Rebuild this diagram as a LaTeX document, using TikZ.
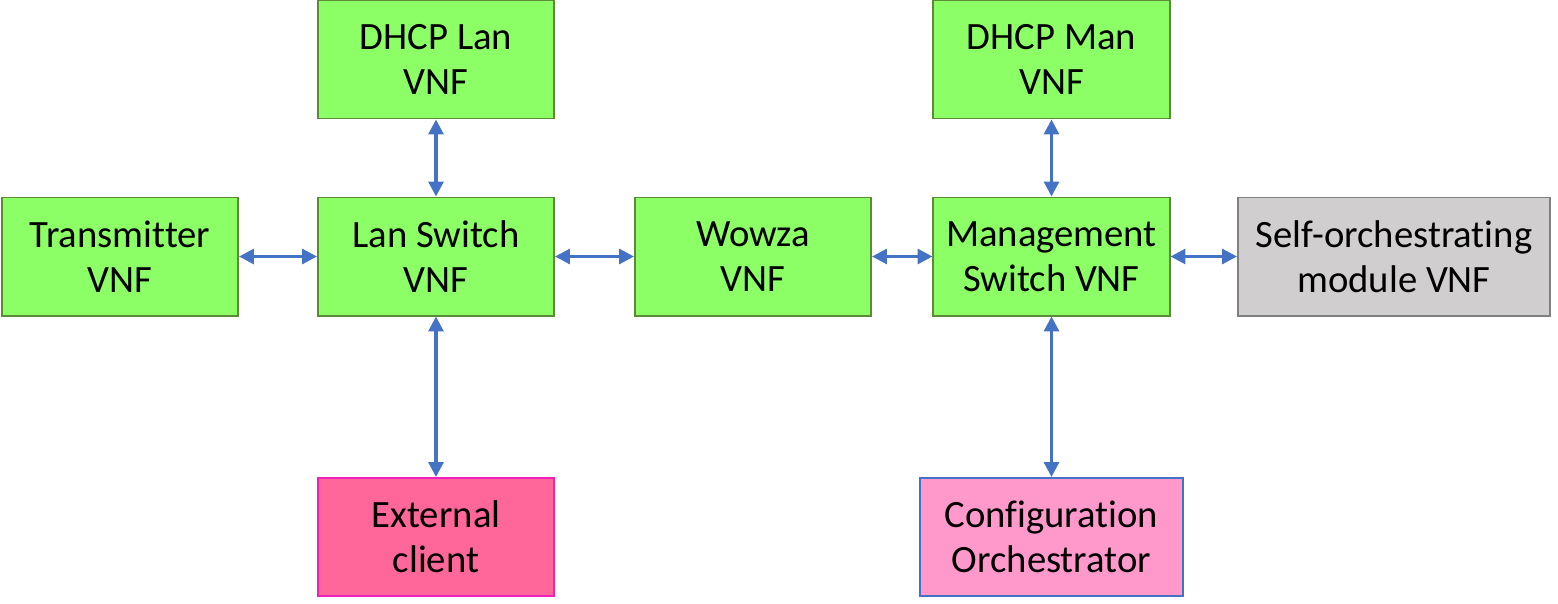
\documentclass[tikz,border=0pt]{standalone}
\usepackage{fontspec}
\setmainfont{Carlito}[Ligatures={NoCommon}]
\usepackage{xcolor}
\usetikzlibrary{arrows.meta, positioning}

\definecolor{vnfgreen}{HTML}{8CFF66}
\definecolor{vnfedge}{HTML}{5B8C35}
\definecolor{selfgray}{HTML}{D0CECE}
\definecolor{selfedge}{HTML}{808080}
\definecolor{clientpink}{HTML}{FF6699}
\definecolor{clientedge}{HTML}{EE22BB}
\definecolor{orchpink}{HTML}{FF99CC}
\definecolor{linkblue}{HTML}{4472C4}

\tikzset{
  box/.style={draw, line width=1.4pt, minimum height=2.95cm, align=center,
    inner sep=0pt, font=\fontsize{27.5}{32}\selectfont},
  vnf/.style={box, fill=vnfgreen, draw=vnfedge, minimum width=5.9cm},
  selfbox/.style={box, fill=selfgray, draw=selfedge, minimum width=7.8cm},
  clientbox/.style={box, fill=clientpink, draw=clientedge, minimum width=5.9cm},
  orchbox/.style={box, fill=orchpink, draw=linkblue, minimum width=6.575cm},
  link/.style={<->, draw=linkblue, fill=linkblue, line width=2.2pt}
}

\begin{document}
\begin{tikzpicture}[>={Triangle[length=10.5pt,width=10.5pt]}, x=0.025cm, y=-0.025cm]

  \useasboundingbox (0,0) rectangle (1558,604);

  % top row
  \node[vnf] (dhcplan) at (436,59.5) {DHCP Lan\\VNF};
  \node[vnf] (dhcpman) at (1051.5,59.5) {DHCP Man\\VNF};

  % middle row
  \node[vnf] (trans) at (120,256.5) {Transmitter\\VNF};
  \node[vnf] (lansw) at (436,256.5) {Lan Switch\\VNF};
  \node[vnf] (wowza) at (753,256.5) {Wowza\\VNF};
  \node[vnf] (mansw) at (1051.5,256.5) {Management\\Switch VNF};
  \node[selfbox] (self) at (1394,256.5) {Self-orchestrating\\module VNF};

  % bottom row
  \node[clientbox] (client) at (436,537) {External\\client};
  \node[orchbox] (orch) at (1051.5,537) {Configuration\\Orchestrator};

  % links
  \draw[link] (trans) -- (lansw);
  \draw[link] (lansw) -- (wowza);
  \draw[link] (wowza) -- (mansw);
  \draw[link] (mansw) -- (self);
  \draw[link] (dhcplan) -- (lansw);
  \draw[link] (lansw) -- (client);
  \draw[link] (dhcpman) -- (mansw);
  \draw[link] (mansw) -- (orch);

\end{tikzpicture}
\end{document}
